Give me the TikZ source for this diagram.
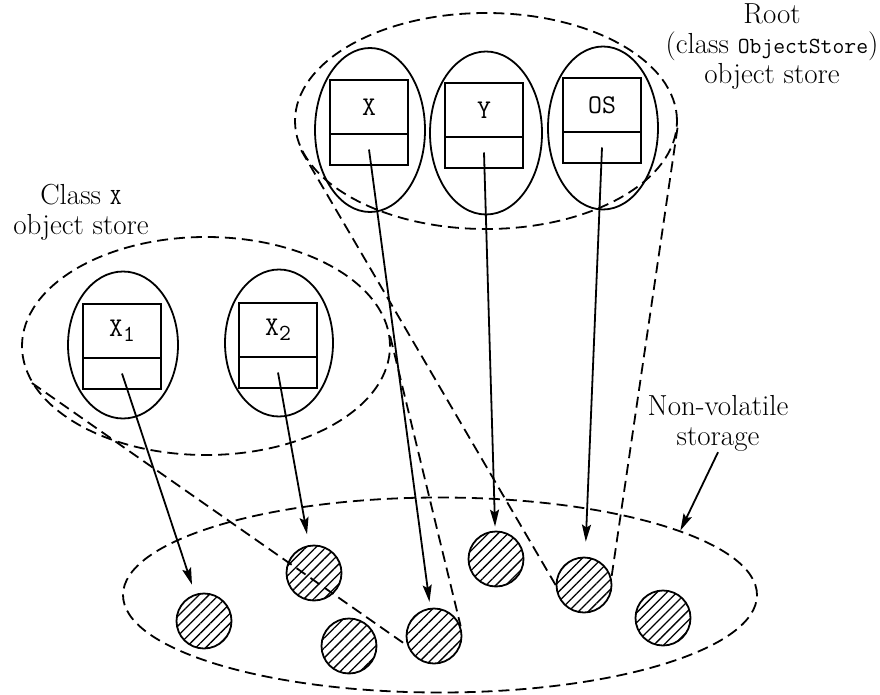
\documentclass[tikz,border=0pt]{standalone}
\usepackage{tikz}
\usetikzlibrary{arrows.meta,positioning,shapes.geometric,patterns.meta}
\newcommand{\cname}[1]{{\ttfamily\fontsize{23}{29}\selectfont #1}}
\tikzset{
  store/.style={draw,ellipse,inner sep=0pt,line width=1.8pt,dash pattern=on 11pt off 6pt},
  cell/.style={draw,ellipse,inner sep=0pt,line width=1.8pt},
  slot/.style={draw,rectangle,inner sep=0pt,outer sep=0pt,minimum width=78pt,line width=1.8pt,font=\ttfamily\fontsize{27}{27}\selectfont},
  disk/.style={draw,circle,inner sep=0pt,minimum size=55pt,line width=1.8pt,pattern={Lines[angle=45,distance=7pt,line width=1.3pt]}},
  cone/.style={line width=1.8pt,dash pattern=on 11pt off 6pt},
  pointer/.style={->,line width=1.8pt,shorten >=#1},
  pointer/.default=8pt,
  lbl/.style={align=center,inner sep=1pt,font=\fontsize{29}{30}\selectfont},
}

\begin{document}
\begin{tikzpicture}[x=1pt,y=-1pt,>={Stealth[length=17pt,width=9pt,inset=3pt]}]
  \useasboundingbox (0,0) rectangle (880,695);
  % object stores
  \node[store,minimum width=382,minimum height=216] (rootstore) at (486,121) {};
  \node[store,minimum width=368,minimum height=218] (classx) at (206,346) {};
  \node[store,minimum width=634,minimum height=195] (storage) at (440,595) {};
  % objects with their references
  \foreach \n/\cx/\cy/\w/\h/\bx/\bt/\t in {x/370/130/110/164/369/80/X,y/486/133/112/163/484/83/Y,os/603/128/110/163/602/78/OS,xone/123/345/110/147/122/304/X\raisebox{-5pt}{\fontsize{23}{23}\selectfont 1},xtwo/279/343/108/147/278/303/X\raisebox{-5pt}{\fontsize{23}{23}\selectfont 2}}{
    \node[cell,minimum width=\w,minimum height=\h] (cell\n) at (\cx,\cy) {};
    \node[slot,minimum height=54,anchor=north] (top\n) at (\bx,\bt) {\t};
    \node[slot,minimum height=31,below=0pt of top\n] (ref\n) {};}
  % non-volatile storage
  \foreach \n/\x/\y in {1/204/621,2/314/573,3/349/646,4/434/636,5/496/559,6/584/585,7/663/618}
    \node[disk] (obj\n) at (\x,\y) {};
  \draw[pointer=10pt] (refxone.center) -- (obj1);
  \draw[pointer=11pt] (refxtwo.center) -- (obj2);
  \draw[pointer=6pt] (refx.center) -- (obj4);
  \draw[pointer=4pt] (refy.center) -- (obj5);
  \draw[pointer=15pt] (refos.center) -- (obj6);
  % stores kept as objects
  \draw[cone] (classx.192) -- (obj4.200);
  \draw[cone] (classx.3) -- (obj4.20);
  \draw[cone] (rootstore.189) -- (obj6.180);
  \draw[cone] (rootstore.-2) -- (obj6.15);
  % labels
  \node[lbl,anchor=north] (rootlbl) at (772,2) {Root\\(class \cname{ObjectStore})\\object store};
  \node[lbl] (classxlbl) at (81,212) {Class \cname{X}\\object store};
  \node[lbl] (nvlbl) at (718,423) {Non-volatile\\storage};
  \draw[->,line width=1.8pt] (nvlbl.south) -- (storage.15);
\end{tikzpicture}
\end{document}
